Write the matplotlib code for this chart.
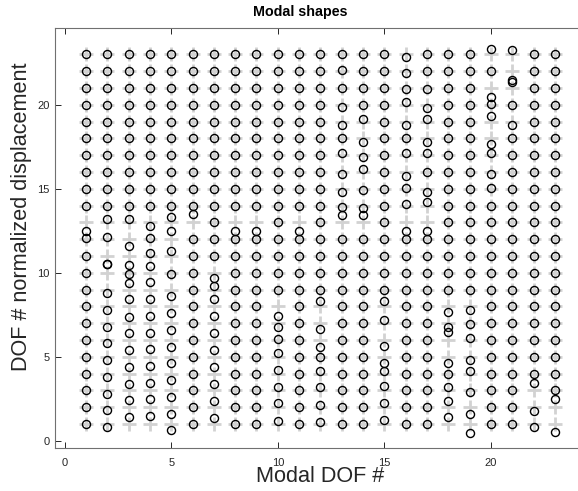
import matplotlib.pyplot as plt
import numpy as np

plt.rcParams['font.family'] = ['Liberation Sans', 'DejaVu Sans']

modes = np.arange(1, 24)
dofs = np.arange(1, 24)

# normalized displacement of every DOF (DOF 1 first) for each mode
shape_01 = [0, 0, 0, 0, 0, 0, 0, 0, 0, 0, 0, 0.05, -0.5, 0, 0, 0, 0, 0, 0, 0, 0, 0, 0]
shape_02 = [-0.2, -0.19, -0.2, -0.19, -0.19, -0.2, -0.23, -0.23, -0.22, 0.5, -0.5, 0.15, 0.18,
            0, 0, 0, 0, 0, 0, 0, 0, 0, 0]
shape_03 = [0.41, 0.4, 0.4, 0.4, 0.4, 0.4, 0.39, 0.42, 0.4, -0.1, -0.55, -0.4, 0.18,
            0, 0, 0, 0, 0, 0, 0, 0, 0, 0]
shape_04 = [0.49, 0.47, 0.46, 0.47, 0.46, 0.43, 0.43, 0.42, 0.47, 0.4, 0.2, 0.05, -0.22,
            0, 0, 0, 0, 0, 0, 0, 0, 0, 0]
shape_05 = [-0.38, -0.4, -0.4, -0.4, -0.4, -0.4, -0.4, -0.4, -0.4, -0.1, 0.3, 0.48, 0.33,
            0, 0, 0, 0, 0, 0, 0, 0, 0, 0]
shape_06 = [0, 0, 0, 0, 0, 0, 0, 0, 0, 0, 0, 0, 0.47, 0, 0, 0, 0, 0, 0, 0, 0, 0, 0]
shape_07 = [0.37, 0.36, 0.38, 0.37, 0.4, 0.4, 0.43, 0.44, 0.23, -0.33,
            0, 0, 0, 0, 0, 0, 0, 0, 0, 0, 0, 0, 0]
shape_08 = [0, 0, 0, 0, 0, 0, 0, 0, 0, 0, 0, 0, -0.5, 0, 0, 0, 0, 0, 0, 0, 0, 0, 0]
shape_09 = [0, 0, 0, 0, 0, 0, 0, 0, 0, 0, 0, 0, -0.5, 0, 0, 0, 0, 0, 0, 0, 0, 0, 0]
shape_10 = [0.2, 0.23, 0.2, 0.2, 0.2, 0.04, -0.2, -0.55,
            0, 0, 0, 0, 0, 0, 0, 0, 0, 0, 0, 0, 0, 0, 0]
shape_11 = [0, 0, 0, 0, 0, 0, 0, 0, 0, 0, 0, 0, -0.5, 0, 0, 0, 0, 0, 0, 0, 0, 0, 0]
shape_12 = [0.1, 0.13, 0.18, 0.15, -0.03, -0.44, -0.35, 0.32,
            0, 0, 0, 0, 0, 0, 0, 0, 0, 0, 0, 0, 0, 0, 0]
shape_13 = [0, 0, 0, 0, 0, 0, 0, 0, 0, 0, 0, 0,
            0.44, -0.1, -0.2, -0.1, 0.1, 0, -0.2, -0.12, 0, 0.07, 0.05]
shape_14 = [0, 0, 0, 0, 0, 0, 0, 0, 0, 0, 0, 0,
            0.44, -0.12, -0.08, 0.16, -0.1, -0.2, 0.13, 0, 0, 0, 0]
shape_15 = [0.23, 0.27, 0.26, 0.17, -0.39, -0.36, 0.19, 0.32,
            0, 0, 0, 0, 0, 0, 0, 0, 0, 0, 0, 0, 0, 0, 0]
shape_16 = [0, 0, 0, 0, 0, 0, 0, 0, 0, 0, 0, 0,
            -0.5, 0.12, 0.02, -0.24, 0.1, 0, -0.2, 0.18, -0.05, -0.08, -0.13]
shape_17 = [0, 0, 0, 0, 0, 0, 0, 0, 0, 0, 0, 0,
            -0.5, 0.24, -0.18, 0, 0.1, -0.2, 0.13, -0.17, -0.05, 0.03, 0]
shape_18 = [0.39, 0.39, 0.18, -0.03, -0.35, 0.5, -0.21, -0.36,
            0, 0, 0, 0, 0, 0, 0, 0, 0, 0, 0, 0, 0, 0, 0]
shape_19 = [-0.52, -0.4, -0.08, 0.17, -0.19, 0.1, -0.07, -0.22,
            0, 0, 0, 0, 0, 0, 0, 0, 0, 0, 0, 0, 0, 0, 0]
shape_20 = [0, 0, 0, 0, 0, 0, 0, 0, 0, 0, 0, 0, 0, 0,
            0.04, -0.12, 0.14, -0.36, 0.35, 0.04, -0.56, 0, 0.32]
shape_21 = [0, 0, 0, 0, 0, 0, 0, 0, 0, 0, 0, 0, 0, 0, 0, 0, 0, 0,
            -0.2, -0.03, 0.38, -0.55, 0.28]
shape_22 = [-0.16, -0.23, 0.46, 0, 0, 0, 0, 0, 0, 0, 0, 0, 0, 0, 0, 0, 0, 0, 0, 0, 0, 0, 0]
shape_23 = [-0.46, 0.49, 0, 0, 0, 0, 0, 0, 0, 0, 0, 0, 0, 0, 0, 0, 0, 0, 0, 0, 0, 0, 0]

shapes = np.array([shape_01, shape_02, shape_03, shape_04, shape_05, shape_06, shape_07,
                   shape_08, shape_09, shape_10, shape_11, shape_12, shape_13, shape_14,
                   shape_15, shape_16, shape_17, shape_18, shape_19, shape_20, shape_21,
                   shape_22, shape_23])

tick_vals = [0, 5, 10, 15, 20]

W, H = 578, 491
fig = plt.figure(figsize=(W / 100, H / 100), dpi=100)
ax = fig.add_axes([55 / W, 43 / H, 533 / W, 420 / H])

mm, dd = np.meshgrid(modes, dofs, indexing='ij')

# undeformed DOF positions
ax.plot(mm.ravel(), dd.ravel(), ls='none', marker='+', ms=9.5, mew=2.0,
        color='#d2d2d2', zorder=2)
# deformed positions
ax.plot(mm.ravel(), (dd + shapes).ravel(), ls='none', marker='o', ms=5.8,
        mfc='none', mec='black', mew=1.0, zorder=3)

ax.set_xlim(-0.45, 24.55)
ax.set_ylim(-0.43, 24.57)
ax.set_xticks(tick_vals)
ax.set_yticks(tick_vals)
ax.tick_params(direction='in', length=4, width=0.7, colors='#262626',
               labelsize=8, top=True, right=False)
ax.tick_params(axis='x', pad=7)
ax.tick_params(axis='y', pad=4)
ax.spines['right'].set_visible(False)
for sp in ax.spines.values():
    sp.set_color('#707070')
    sp.set_linewidth(0.8)

fig.text(300 / W, 1 - 12 / H, 'Modal shapes', ha='center', va='center',
         fontsize=10.3, fontweight='bold', color='black')
fig.text(320 / W, 1 - 477 / H, 'Modal DOF #', ha='center', va='center',
         fontsize=15.6, color='#262626')
fig.text(22 / W, 1 - 217 / H, 'DOF # normalized displacement', ha='center',
         va='center', rotation=90, fontsize=15.6, color='#262626')

fig.savefig('out.png', dpi=100)
